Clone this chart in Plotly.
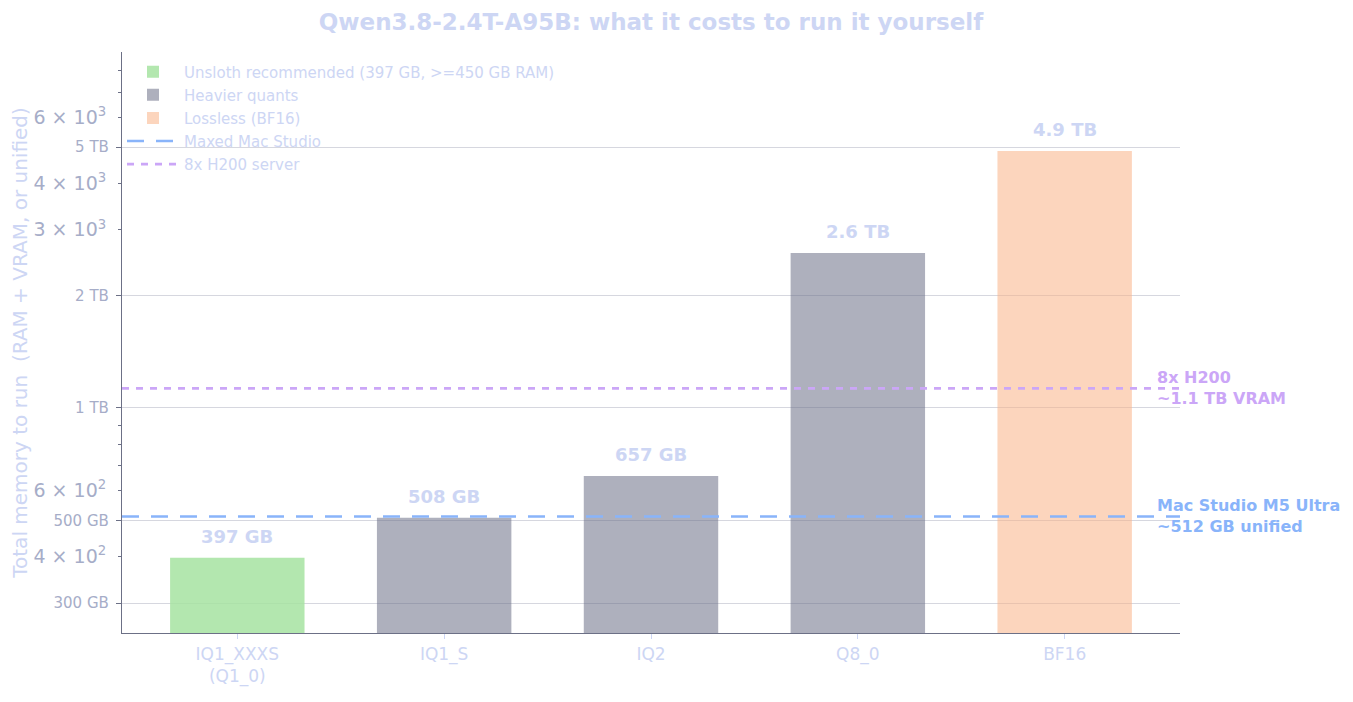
import math
import plotly.graph_objects as go

# ---------------- data ----------------
QUANTS = ["IQ1_XXXS<br>(Q1_0)", "IQ1_S", "IQ2", "Q8_0", "BF16"]
SIZES_GB = [397, 508, 657, 2600, 4880]
GROUPS = ["rec", "heavy", "heavy", "heavy", "lossless"]
GROUP_NAMES = {
    "rec": "Unsloth recommended (397 GB, >=450 GB RAM)",
    "heavy": "Heavier quants",
    "lossless": "Lossless (BF16)",
}
MAC_GB = 512
H200_GB = 1128
MAC_NAME = "Maxed Mac Studio"
H200_NAME = "8x H200 server"
MAC_NOTE = "Mac Studio M5 Ultra<br>~512 GB unified"
H200_NOTE = "8x H200<br>~1.1 TB VRAM"
MAJOR_TICKS = [300, 500, 1000, 2000, 5000]
MAJOR_TEXT = ["300 GB", "500 GB", "1 TB", "2 TB", "5 TB"]
MINOR_LABELED = [400, 600, 3000, 4000, 6000]
MINOR_TEXT = ["4 × 10<sup>2</sup>", "6 × 10<sup>2</sup>", "3 × 10<sup>3</sup>",
              "4 × 10<sup>3</sup>", "6 × 10<sup>3</sup>"]
MINOR_PLAIN = [700, 800, 900, 7000, 8000]
Y_MIN, Y_MAX = 249.5, 8985

TITLE = "Qwen3.8-2.4T-A95B: what it costs to run it yourself"
YTITLE = "Total memory to run  (RAM + VRAM, or unified)"

# ---------------- style ----------------
FONT = "DejaVu Sans"
TXT = "#cdd6f4"
SUB = "#a6adc8"
SPINE = "#6c7086"
GRID = "#d6d7df"
COLORS = {
    "rec": "rgba(166,227,161,0.85)",
    "heavy": "rgba(108,112,134,0.55)",
    "lossless": "rgba(250,179,135,0.55)",
}
BLUE = "#89b4fa"
MAUVE = "#cba6f7"


def fmt(v):
    return f"{v/1000:.1f} TB" if v >= 1000 else f"{v:.0f} GB"


fig = go.Figure()
for g in ["rec", "heavy", "lossless"]:
    xs = [q for q, gg in zip(QUANTS, GROUPS) if gg == g]
    ys = [s for s, gg in zip(SIZES_GB, GROUPS) if gg == g]
    fig.add_trace(go.Bar(
        x=xs, y=ys, name=GROUP_NAMES[g], width=0.65,
        marker=dict(color=COLORS[g], line=dict(width=0)),
        legendgroup=g,
    ))

# invisible traces anchoring the overlaid axes that carry the minor ticks
for ax in ["y2", "y3"]:
    fig.add_trace(go.Scatter(x=QUANTS, y=SIZES_GB, yaxis=ax, mode="markers",
                             marker=dict(opacity=0), showlegend=False, hoverinfo="skip"))

fig.add_hline(y=MAC_GB, line=dict(color=BLUE, width=2.6, dash="17px,12px"),
              showlegend=True, name=MAC_NAME, legendgroup="mac")
fig.add_hline(y=H200_GB, line=dict(color=MAUVE, width=2.6, dash="7px,7px"),
              showlegend=True, name=H200_NAME, legendgroup="h200")

for q, s in zip(QUANTS, SIZES_GB):
    fig.add_annotation(x=q, y=math.log10(s), text=f"<b>{fmt(s)}</b>", showarrow=False,
                       yanchor="bottom", yshift=9,
                       font=dict(family=FONT, size=18, color=TXT))

fig.add_annotation(x=4.435, y=math.log10(H200_GB), text=f"<b>{H200_NOTE}</b>", showarrow=False,
                   xanchor="left", yanchor="middle", align="left",
                   font=dict(family=FONT, size=16, color=MAUVE))
fig.add_annotation(x=4.435, y=math.log10(MAC_GB), text=f"<b>{MAC_NOTE}</b>", showarrow=False,
                   xanchor="left", yanchor="middle", align="left",
                   font=dict(family=FONT, size=16, color=BLUE))

YR = [math.log10(Y_MIN), math.log10(Y_MAX)]

fig.update_layout(
    width=1337, height=686,
    margin=dict(l=114, r=165, t=44, b=61),
    paper_bgcolor="white", plot_bgcolor="white",
    barmode="overlay",
    title=dict(text=f"<b>{TITLE}</b>", x=(651 - 8) / 1337, xanchor="center",
               y=1 - 14 / 686, yanchor="middle",
               font=dict(family=FONT, size=23, color=TXT)),
    font=dict(family=FONT, color=TXT),
    legend=dict(x=0.0, y=0.994, xanchor="left", yanchor="top",
                bgcolor="rgba(0,0,0,0)", borderwidth=0,
                font=dict(family=FONT, size=15, color=TXT),
                tracegroupgap=0.6, itemwidth=52),
    xaxis=dict(
        type="category", range=[-0.5575, 4.5575], automargin=False,
        showline=True, linecolor=SPINE, linewidth=1.3,
        ticks="outside", ticklen=5, tickcolor=TXT, tickwidth=1,
        tickfont=dict(family=FONT, size=17, color=TXT),
        showgrid=False, zeroline=False,
    ),
    yaxis=dict(
        type="log", range=YR, automargin=False,
        tickmode="array", tickvals=MAJOR_TICKS, ticktext=MAJOR_TEXT,
        showline=True, linecolor=SPINE, linewidth=1.3,
        ticks="outside", ticklen=5, tickcolor=SPINE, tickwidth=1,
        ticklabelstandoff=4,
        tickfont=dict(family=FONT, size=15, color=SUB),
        showgrid=True, gridcolor=GRID, gridwidth=1.2,
        zeroline=False,
        title=dict(text=YTITLE, standoff=20,
                   font=dict(family=FONT, size=20, color=TXT)),
    ),
    yaxis2=dict(
        type="log", range=YR, automargin=False,
        overlaying="y", side="left",
        tickmode="array", tickvals=MINOR_LABELED, ticktext=MINOR_TEXT,
        ticks="outside", ticklen=3, tickcolor=SPINE, tickwidth=1,
        ticklabelstandoff=8,
        tickfont=dict(family=FONT, size=19, color=SUB),
        showgrid=False, showline=False, zeroline=False,
    ),
    yaxis3=dict(
        type="log", range=YR, automargin=False,
        overlaying="y", side="left",
        tickmode="array", tickvals=MINOR_PLAIN, showticklabels=False,
        ticks="outside", ticklen=3, tickcolor=SPINE, tickwidth=1,
        showgrid=False, showline=False, zeroline=False,
    ),
)

fig.write_html("out.html")
